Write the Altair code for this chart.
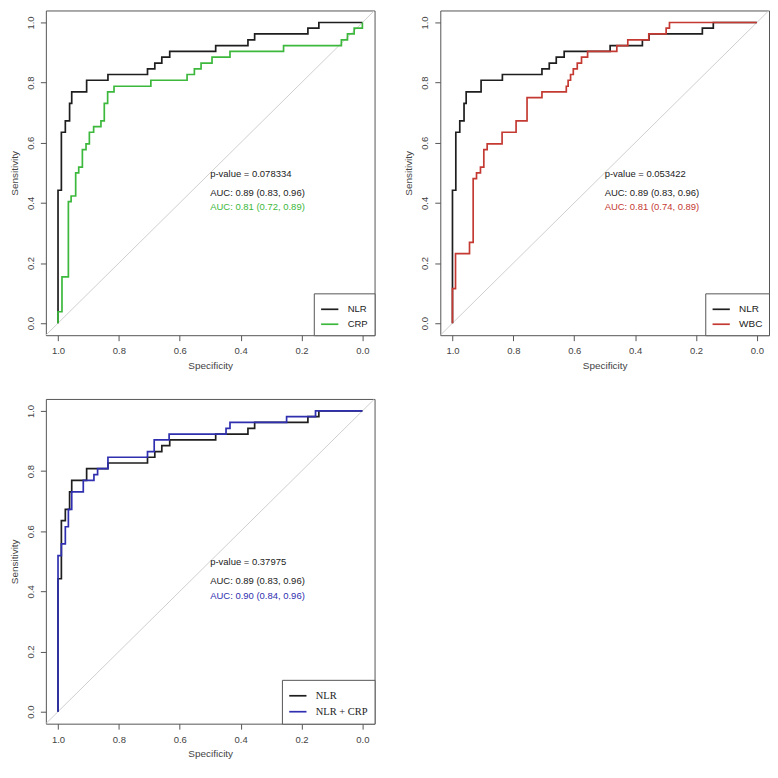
import altair as alt
import pandas as pd

SANS = "Liberation Sans, Arial, sans-serif"
SERIF = "Liberation Serif, Times New Roman, serif"

# ---- data: staircase corner points (specificity, sensitivity) ----
nlr_spec = [1.0, 0.989, 0.976, 0.962, 0.955, 0.906, 0.836, 0.706, 0.682, 0.659, 0.633,
            0.482, 0.376, 0.354, 0.179, 0.143, 0.0]
nlr_sens = [0.442, 0.635, 0.673, 0.731, 0.769, 0.808, 0.827, 0.846, 0.865, 0.885, 0.904,
            0.923, 0.942, 0.962, 0.981, 1.0, 1.0]

crp_spec = [1.0, 0.987, 0.966, 0.957, 0.942, 0.932, 0.920, 0.908, 0.897, 0.883, 0.859,
            0.848, 0.837, 0.816, 0.695, 0.576, 0.552, 0.530, 0.494, 0.435, 0.259, 0.069,
            0.049, 0.027, 0.0]
crp_sens = [0.038, 0.154, 0.404, 0.423, 0.500, 0.519, 0.577, 0.596, 0.635, 0.654, 0.673,
            0.731, 0.769, 0.788, 0.808, 0.827, 0.846, 0.865, 0.885, 0.904, 0.923, 0.942,
            0.962, 0.981, 1.0]

wbc_spec = [1.0, 0.990, 0.944, 0.932, 0.921, 0.908, 0.897, 0.886, 0.837, 0.791, 0.755,
            0.706, 0.626, 0.620, 0.612, 0.603, 0.590, 0.576, 0.556, 0.460, 0.424, 0.355,
            0.298, 0.287, 0.0]
wbc_sens = [0.115, 0.231, 0.269, 0.481, 0.500, 0.519, 0.577, 0.596, 0.635, 0.673, 0.750,
            0.769, 0.788, 0.808, 0.827, 0.846, 0.865, 0.885, 0.904, 0.923, 0.942, 0.962,
            0.981, 1.0, 1.0]

combo_spec = [1.0, 0.989, 0.976, 0.966, 0.955, 0.917, 0.882, 0.870, 0.836, 0.706, 0.684,
              0.635, 0.448, 0.435, 0.249, 0.154, 0.0]
combo_sens = [0.519, 0.558, 0.615, 0.673, 0.731, 0.769, 0.788, 0.808, 0.846, 0.865, 0.904,
              0.923, 0.942, 0.962, 0.981, 1.0, 1.0]

diag_spec = [1.04, -0.04]
diag_sens = [-0.04, 1.04]

tick_values = [0.0, 0.2, 0.4, 0.6, 0.8, 1.0]

text_x = 0.5
text_y = [0.497, 0.433, 0.386]

panel1_texts = ["p-value = 0.078334", "AUC: 0.89 (0.83, 0.96)", "AUC: 0.81 (0.72, 0.89)"]
panel2_texts = ["p-value = 0.053422", "AUC: 0.89 (0.83, 0.96)", "AUC: 0.81 (0.74, 0.89)"]
panel3_texts = ["p-value = 0.37975", "AUC: 0.89 (0.83, 0.96)", "AUC: 0.90 (0.84, 0.96)"]

panel1_names = ["NLR", "CRP"]
panel2_names = ["NLR", "WBC"]
panel3_names = ["NLR", "NLR + CRP"]

BLACK = "#1e1e1e"
GREEN = "#3cb83c"
RED = "#c43a33"
BLUE = "#2f2fb0"

W, H = 330, 326


def vertices(spec, sens):
    pts = [(1.0, 0.0)]
    prev = 0.0
    for s, v in zip(spec, sens):
        pts.append((s, prev))
        pts.append((s, v))
        prev = v
    return pts


def panel(curves, names, colors, texts, legend_font, legend_size):
    rows = []
    for name, (spec, sens) in zip(names, curves):
        for i, (x, y) in enumerate(vertices(spec, sens)):
            rows.append({"model": name, "spec": x, "sens": y, "i": i})
    df = pd.DataFrame(rows)

    xs = alt.Scale(domain=[1.04, -0.04], nice=False, zero=False)
    ys = alt.Scale(domain=[-0.04, 1.04], nice=False, zero=False)
    xaxis = alt.Axis(values=tick_values, format=".1f", title="Specificity",
                     labelPadding=5, titlePadding=5)
    yaxis = alt.Axis(values=tick_values, format=".1f", title="Sensitivity",
                     labelAngle=270, labelAlign="center", labelBaseline="bottom",
                     labelPadding=5, titlePadding=6)
    X = alt.X("spec:Q", scale=xs, axis=xaxis)
    Y = alt.Y("sens:Q", scale=ys, axis=yaxis)

    diag = alt.Chart(pd.DataFrame({"spec": diag_spec, "sens": diag_sens})).mark_line(
        color="#cfcfcf", strokeWidth=1, clip=True
    ).encode(x=X, y=Y)

    lines = alt.Chart(df).mark_line(strokeWidth=1.7).encode(
        x=X, y=Y, order="i:Q",
        color=alt.Color(
            "model:N",
            scale=alt.Scale(domain=names, range=[BLACK, colors]),
            sort=names,
            legend=alt.Legend(
                orient="bottom-right", offset=0, title=None,
                symbolType="stroke", symbolStrokeWidth=1.7, symbolSize=300,
                strokeColor="#555555", fillColor="white", padding=6,
                labelFont=legend_font, labelFontSize=legend_size, labelColor="#222222",
                labelOffset=8, rowPadding=-4,
            ),
        ),
    )

    tdf = pd.DataFrame({"spec": [text_x] * 3, "sens": text_y, "label": texts,
                        "kind": ["a", "a", "b"]})
    txt_dark = alt.Chart(tdf[tdf.kind == "a"]).mark_text(
        align="left", baseline="middle", font=SANS, fontSize=9.5, color="#222222"
    ).encode(x=X, y=Y, text="label:N")
    txt_col = alt.Chart(tdf[tdf.kind == "b"]).mark_text(
        align="left", baseline="middle", font=SANS, fontSize=9.5, color=colors
    ).encode(x=X, y=Y, text="label:N")

    return alt.layer(diag, lines, txt_dark, txt_col).properties(width=W, height=H)


p1 = panel([(nlr_spec, nlr_sens), (crp_spec, crp_sens)], panel1_names, GREEN,
           panel1_texts, SANS, 9.5)
p2 = panel([(nlr_spec, nlr_sens), (wbc_spec, wbc_sens)], panel2_names, RED,
           panel2_texts, SANS, 10)
p3 = panel([(nlr_spec, nlr_sens), (combo_spec, combo_sens)], panel3_names, BLUE,
           panel3_texts, SERIF, 10.5)

chart = alt.concat(p1, p2, p3, columns=2, spacing={"row": 64, "column": 66},
                   bounds="flush").resolve_scale(color="independent").properties(
    padding=0, background="white"
).configure_view(stroke="#555555", strokeWidth=1).configure_axis(
    domain=False, grid=False, tickColor="#555555", tickSize=5.5, tickWidth=1,
    labelFont=SANS, labelFontSize=9.5, labelColor="#444444",
    titleFont=SANS, titleFontSize=10, titleFontWeight="normal", titleColor="#444444",
)

chart.save("out.html", embed_options={"renderer": "svg", "actions": False})
